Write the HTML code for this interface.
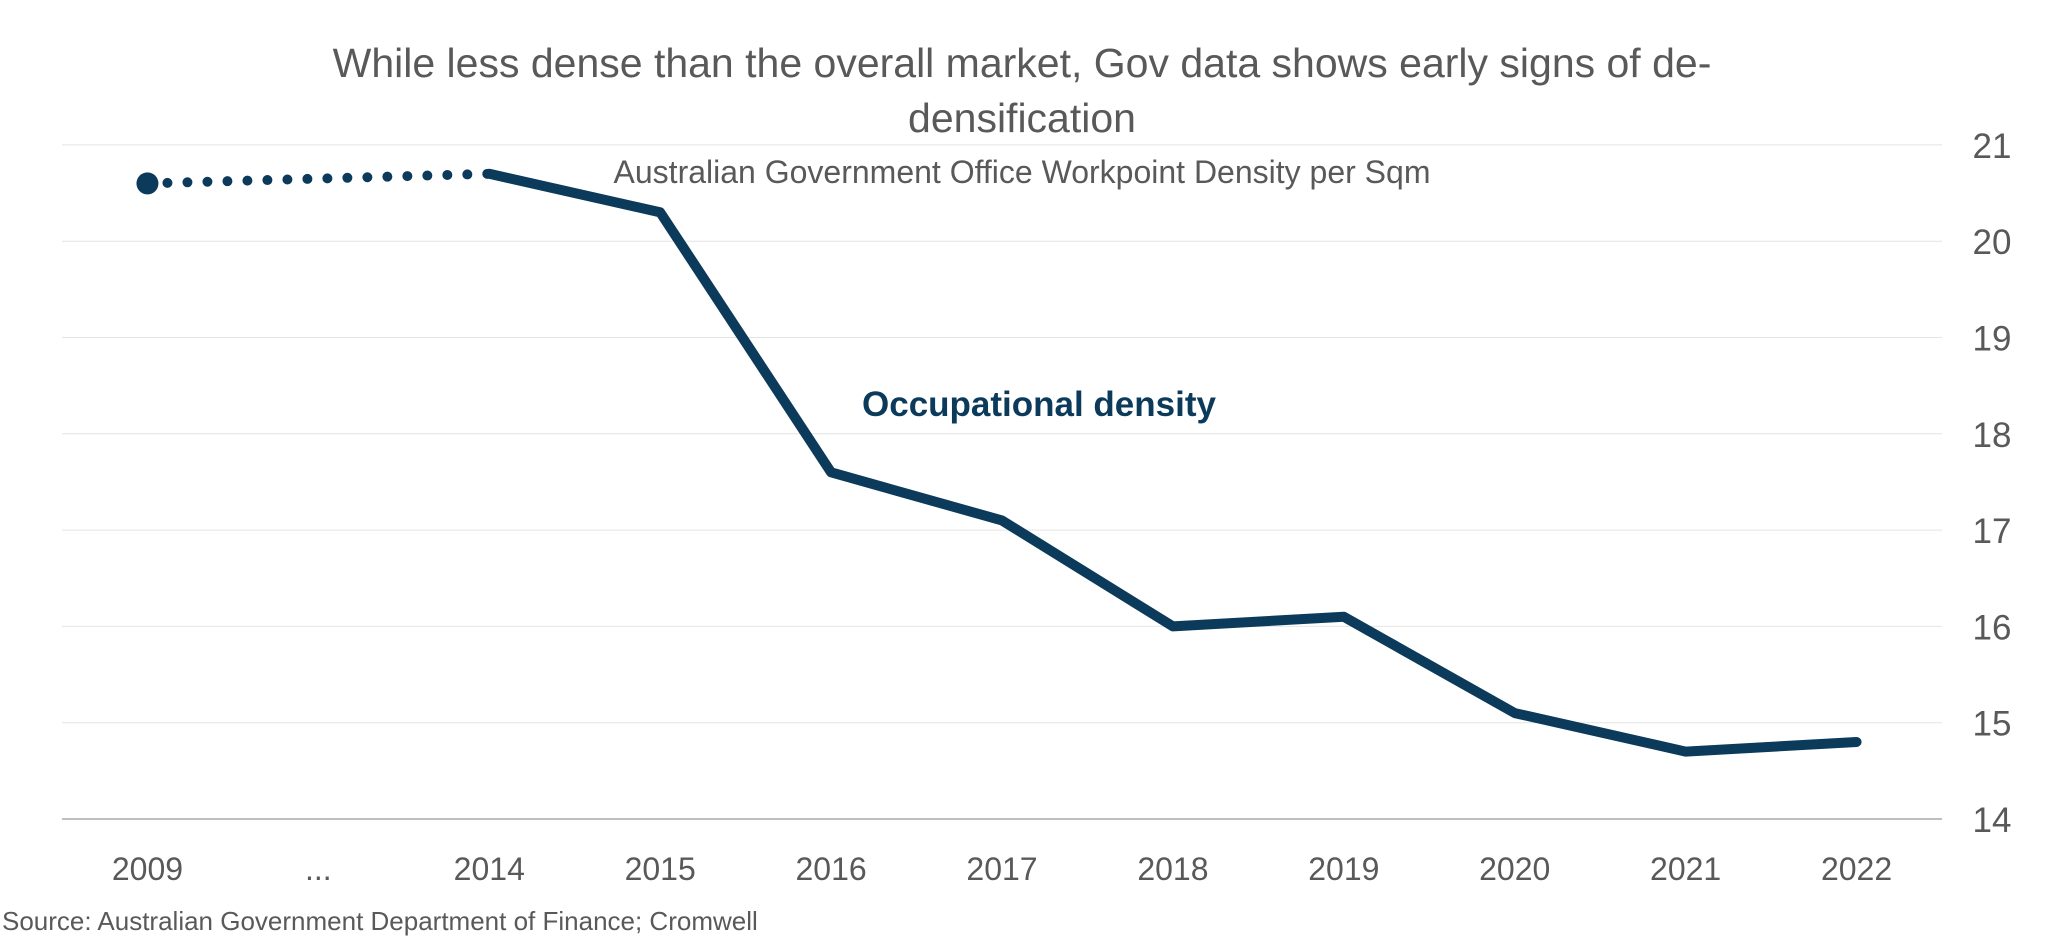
<!DOCTYPE html>
<html><head><meta charset="utf-8"><style>
html,body{margin:0;padding:0;background:#fff;}
svg{display:block;font-family:"Liberation Sans",sans-serif;}
</style></head><body>
<svg id="chart" width="2068" height="949" viewBox="0 0 2068 949">
<text x="1022" y="77" text-anchor="middle" font-size="41" fill="#595959">While less dense than the overall market, Gov data shows early signs of de-</text>
<text x="1022" y="132" text-anchor="middle" font-size="41" fill="#595959">densification</text>
<g id="grid"></g>
<g id="yticks"></g>
<g id="xticks"></g>
<g id="series"></g>
<text x="1022" y="183" text-anchor="middle" font-size="32" fill="#595959">Australian Government Office Workpoint Density per Sqm</text>
<text x="862" y="416" font-size="35" font-weight="bold" fill="#0b3a5a">Occupational density</text>
<text x="2" y="930" font-size="26" fill="#595959">Source: Australian Government Department of Finance; Cromwell</text>
</svg>
<script>
const categories=["2009","...","2014","2015","2016","2017","2018","2019","2020","2021","2022"];
const values=[20.6,null,20.7,20.3,17.6,17.1,16.0,16.1,15.1,14.7,14.8];
const yTicks=[14,15,16,17,18,19,20,21];
const NS="http://www.w3.org/2000/svg";
const L=62,R=1942,Y0=819,YS=96.3;
const step=(R-L)/categories.length;
const x=i=>L+step*(i+0.5);
const y=v=>Y0-(v-14)*YS;
function mk(t,a,p){const e=document.createElementNS(NS,t);for(const k in a)e.setAttribute(k,a[k]);p.appendChild(e);return e;}
const grid=document.getElementById('grid'),yt=document.getElementById('yticks'),xt=document.getElementById('xticks'),s=document.getElementById('series');
yTicks.forEach(v=>{
 const l=mk('line',{x1:L,x2:R,y1:y(v),y2:y(v),stroke:v===14?'#bfbfbf':'#e4e4e4','stroke-width':v===14?2:1},grid);
 
 
 const t=mk('text',{x:1992,y:y(v)+13,'text-anchor':'middle','font-size':35,fill:'#595959'},yt);
 t.textContent=v;
 
 
});
categories.forEach((c,i)=>{
 const t=mk('text',{x:x(i),y:880,'text-anchor':'middle','font-size':32,fill:'#595959'},xt);
 t.textContent=c;
 
 
});
const d=mk('line',{x1:x(0),y1:y(values[0]),x2:x(2),y2:y(values[2]),stroke:'#0b3a5a','stroke-width':10,'stroke-linecap':'round','stroke-dasharray':'0 20'},s);


const m=mk('circle',{cx:x(0),cy:y(values[0]),r:11,fill:'#0b3a5a'},s);


let pts=[];values.forEach((v,i)=>{if(i>=2&&v!=null)pts.push(x(i)+','+y(v));});
const p=mk('polyline',{points:pts.join(' '),fill:'none',stroke:'#0b3a5a','stroke-width':10,'stroke-linecap':'round','stroke-linejoin':'round'},s);


</script>
</body></html>
